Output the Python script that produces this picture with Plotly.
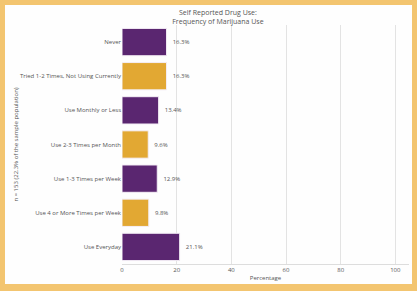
import plotly.graph_objects as go

categories = [
    "Never",
    "Tried 1-2 Times, Not Using Currently",
    "Use Monthly or Less",
    "Use 2-3 Times per Month",
    "Use 1-3 Times per Week",
    "Use 4 or More Times per Week",
    "Use Everyday",
]
values = [16.3, 16.3, 13.4, 9.6, 12.9, 9.8, 21.1]
bar_colors = ["#5a2670", "#e2a833", "#5a2670", "#e2a833", "#5a2670", "#e2a833", "#5a2670"]
x_ticks = [0, 20, 40, 60, 80, 100]

title_text = "Self Reported Drug Use:<br>Frequency of Marijuana Use"
x_title = "Percentage"
y_title = "n = 153 (22.3% of the sample population)"

W, H = 417, 291
L, R, T, B = 122, 8, 25, 27
pw, ph = W - L - R, H - T - B

def px_x(p):
    return (p - L) / pw

def px_y(p):
    return (H - B - p) / ph

fig = go.Figure(go.Bar(
    x=values,
    y=categories,
    orientation="h",
    marker=dict(color=bar_colors, line=dict(color="#f4eef6", width=1)),
    text=[f"{v:.1f}%" for v in values],
    textposition="outside",
    texttemplate="  %{text}",
    textfont=dict(size=6, color="#555555"),
    cliponaxis=False,
    hoverinfo="skip",
))

fig.update_layout(
    width=W, height=H,
    margin=dict(l=L, r=R, t=T, b=B),
    paper_bgcolor="#f3c570",
    plot_bgcolor="rgba(0,0,0,0)",
    font=dict(family="Open Sans", size=6, color="#555555"),
    bargap=0.2,
    showlegend=False,
    hovermode=False,
    title=dict(text=title_text, x=px_x(272), xanchor="center", y=1 - 15 / H, yanchor="middle",
               font=dict(size=7, color="#555555")),
    shapes=[dict(type="rect", xref="paper", yref="paper", layer="below",
                 x0=px_x(5), x1=px_x(412), y0=px_y(284), y1=px_y(5),
                 fillcolor="#fefefe", line=dict(width=0))],
)
fig.update_xaxes(
    range=[0, 105], tickvals=x_ticks, showgrid=True, gridcolor="#e3e3e3", gridwidth=1,
    zeroline=False, showline=True, linecolor="#dddddd", linewidth=1,
    title=dict(text=x_title, font=dict(size=6), standoff=2),
    tickfont=dict(size=6, color="#555555"),
)
fig.update_yaxes(
    categoryorder="array", categoryarray=categories, autorange="reversed",
    showgrid=False, zeroline=False, showline=False,
    title=dict(text=y_title, font=dict(size=6), standoff=0),
    tickfont=dict(size=6),
    ticks="", ticklabelstandoff=0,
)

fig.write_html("out.html", config={"displayModeBar": False, "staticPlot": True},
               post_script="document.body.style.margin='0';document.body.style.padding='0';")
